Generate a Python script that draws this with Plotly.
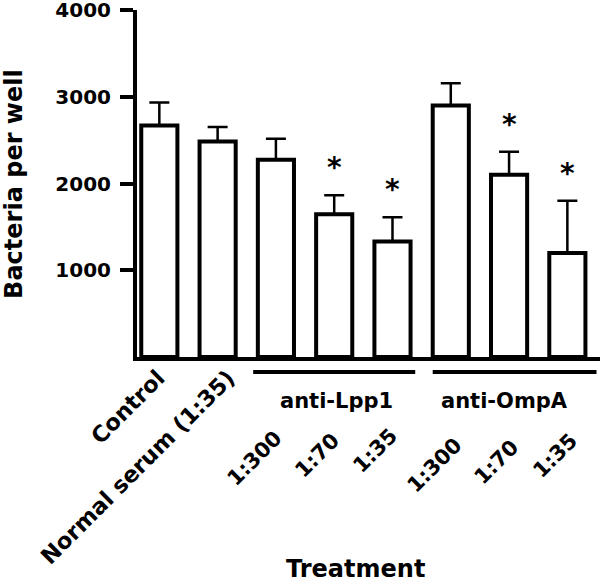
import plotly.graph_objects as go

# ---- data ----
positions = [0, 1, 2, 3, 4, 5, 6, 7]
bar_labels = ["Control", "Normal serum (1:35)", "1:300", "1:70", "1:35", "1:300", "1:70", "1:35"]
values = [2670, 2485, 2275, 1645, 1330, 2900, 2100, 1200]
errors = [265, 165, 240, 220, 280, 255, 265, 600]
significant = [False, False, False, True, True, False, True, True]
group_names = ["anti-Lpp1", "anti-OmpA"]
group_members = [[2, 3, 4], [5, 6, 7]]
y_ticks = [1000, 2000, 3000, 4000]

FONT = "DejaVu Sans"

fig = go.Figure()
fig.add_trace(go.Bar(
    x=positions, y=values, width=0.62,
    marker=dict(color="white", line=dict(color="black", width=4)),
    error_y=dict(type="data", symmetric=False, array=errors,
                 arrayminus=[0] * len(errors), color="black",
                 thickness=2.5, width=10),
    showlegend=False, hoverinfo="skip",
))

annotations = []
# significance stars
for p, v, e, s in zip(positions, values, errors, significant):
    if s:
        annotations.append(dict(x=p, y=v + e, xref="x", yref="y", text="*",
                                showarrow=False, yanchor="bottom", yshift=9,
                                font=dict(family=FONT, size=28, color="black", weight="bold")))

# rotated category labels (label-end offsets in px)
xshifts = [13, 25, 14, 12, 12, 19, 17, 17]
yshifts = [0, 0, 0, -3, 2, -7, -9, -3]
for p, lab, xs, ys in zip(positions, bar_labels, xshifts, yshifts):
    if p < 2:
        annotations.append(dict(x=p, y=-0.014, xref="x", yref="paper", text=lab,
                                textangle=-45, showarrow=False, xanchor="right",
                                yanchor="top", xshift=xs, yshift=ys,
                                font=dict(family=FONT, size=22.5, color="black", weight="bold")))
    else:
        annotations.append(dict(x=p, y=-0.19, xref="x", yref="paper", text=lab,
                                textangle=-45, showarrow=False, xanchor="right",
                                yanchor="top", xshift=xs, yshift=ys,
                                font=dict(family=FONT, size=21, color="black", weight="bold")))

# group brackets and names
shapes = []
line_ranges = [(1.61, 4.39), (4.69, 7.5)]
name_x = [3.04, 5.93]
for g, (a, b), nx in zip(group_names, line_ranges, name_x):
    shapes.append(dict(type="line", xref="x", yref="paper", x0=a, x1=b,
                       y0=-0.043, y1=-0.043, line=dict(color="black", width=4)))
    annotations.append(dict(x=nx, y=-0.127, xref="x", yref="paper", text=g,
                            showarrow=False, xanchor="center", yanchor="middle",
                            font=dict(family=FONT, size=21, color="black", weight="bold")))

# axis titles
annotations.append(dict(x=-0.267, y=0.5, xref="paper", yref="paper",
                        text="Bacteria per well", textangle=-90, showarrow=False,
                        xanchor="center", yanchor="middle",
                        font=dict(family=FONT, size=24, color="black", weight="bold")))
annotations.append(dict(x=0.471, y=-0.611, xref="paper", yref="paper",
                        text="Treatment", showarrow=False,
                        xanchor="center", yanchor="middle",
                        font=dict(family=FONT, size=24, color="black", weight="bold")))

fig.update_layout(
    width=600, height=583,
    margin=dict(l=137, r=0, t=10, b=226, autoexpand=False),
    paper_bgcolor="white", plot_bgcolor="white",
    xaxis=dict(range=[-0.383, 7.56], showticklabels=False, ticks="",
               showline=True, linewidth=4, linecolor="black", automargin=False,
               showgrid=False, zeroline=False, fixedrange=True),
    yaxis=dict(range=[0, 4000], tickvals=y_ticks, ticks="outside",
               ticklen=13, tickwidth=3.5, tickcolor="black", automargin=False,
               showline=True, linewidth=4, linecolor="black",
               ticklabeloverflow="allow", fixedrange=True,
               showgrid=False, zeroline=False, ticklabelstandoff=5,
               tickfont=dict(family=FONT, size=20, color="black", weight="bold")),
    annotations=annotations, shapes=shapes,
)

fig.write_html("out.html", config={"displayModeBar": False},
               post_script="document.body.style.margin='0';document.body.style.overflow='hidden';")
